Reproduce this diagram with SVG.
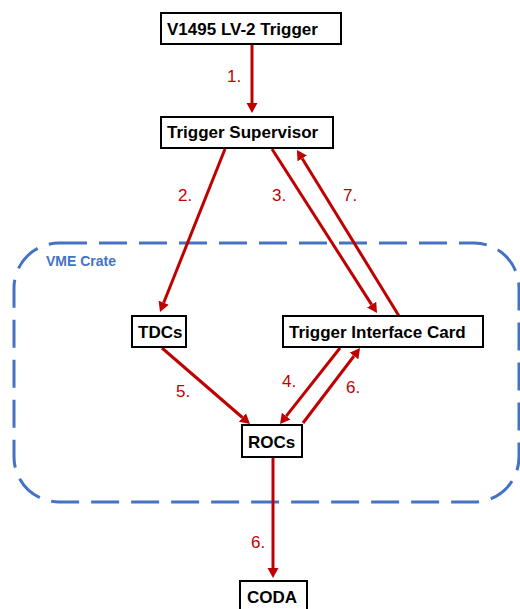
<svg xmlns="http://www.w3.org/2000/svg" width="520" height="609" viewBox="0 0 520 609">
<defs>
<marker id="ah" viewBox="0 -6 12 12" refX="0" refY="0" markerWidth="12" markerHeight="12" markerUnits="userSpaceOnUse" orient="auto">
<path d="M0,-5.5 L10,0 L0,5.5 z" fill="#C00000"/>
</marker>
<style>
.box{fill:#fff;stroke:#000;stroke-width:2}
.nt{font-family:"Liberation Sans",Arial,sans-serif;font-weight:bold;font-size:17px;fill:#000}
.cn{stroke:#C00000;stroke-width:3;fill:none;marker-end:url(#ah)}
.lb{font-family:"Liberation Sans",Arial,sans-serif;font-size:17px;fill:#C00000}
</style>
</defs>
<rect x="14" y="243" width="505" height="259" rx="45" ry="45" fill="none" stroke="#4472C4" stroke-width="3" stroke-dasharray="28,12"/>
<text x="46" y="266" font-family="Liberation Sans,Arial,sans-serif" font-weight="bold" font-size="14" fill="#4472C4">VME Crate</text>
<g id="connectors">
<line class="cn" x1="252" y1="44" x2="252" y2="103"/>
<line class="cn" x1="225" y1="149" x2="163.7" y2="302.7"/>
<line class="cn" x1="272" y1="149" x2="371.6" y2="304.6"/>
<line class="cn" x1="399" y1="316" x2="302.2" y2="158.5"/>
<line class="cn" x1="162" y1="348" x2="242.4" y2="417.5"/>
<line class="cn" x1="340" y1="348" x2="286.2" y2="416.1"/>
<line class="cn" x1="303" y1="423" x2="354" y2="356"/>
<line class="cn" x1="273" y1="457" x2="273" y2="568"/>
<text class="lb" x="227" y="82">1.</text>
<text class="lb" x="178" y="201">2.</text>
<text class="lb" x="272" y="201">3.</text>
<text class="lb" x="343" y="201">7.</text>
<text class="lb" x="176" y="397">5.</text>
<text class="lb" x="282" y="387">4.</text>
<text class="lb" x="346" y="393">6.</text>
<text class="lb" x="251" y="548">6.</text>
</g>
<g id="v1495">
<rect class="box" x="161" y="13" width="180" height="31"/>
<text class="nt" x="167" y="35">V1495 LV-2 Trigger</text>
</g>
<g id="trigger-supervisor">
<rect class="box" x="161" y="117" width="172" height="31"/>
<text class="nt" x="167" y="138">Trigger Supervisor</text>
</g>
<g id="tdcs">
<rect class="box" x="132" y="316" width="54" height="31"/>
<text class="nt" x="138" y="338">TDCs</text>
</g>
<g id="tic">
<rect class="box" x="283" y="316" width="200" height="31"/>
<text class="nt" x="289" y="338">Trigger Interface Card</text>
</g>
<g id="rocs">
<rect class="box" x="242" y="425" width="60" height="32"/>
<text class="nt" x="248" y="448">ROCs</text>
</g>
<g id="coda">
<rect class="box" x="240" y="581" width="67" height="33"/>
<text class="nt" x="247" y="603">CODA</text>
</g>
</svg>
